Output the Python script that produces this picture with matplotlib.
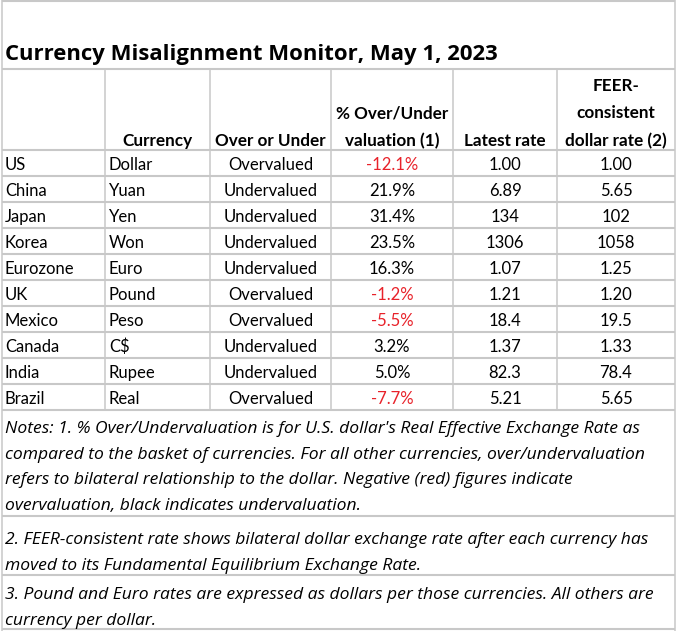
import matplotlib.pyplot as plt

plt.rcParams["font.family"] = ["Lato", "DejaVu Sans"]

# === Table content ===
TITLE = "Currency Misalignment Monitor, May 1, 2023"

countries = ["US", "China", "Japan", "Korea", "Eurozone", "UK", "Mexico", "Canada", "India", "Brazil"]
currencies = ["Dollar", "Yuan", "Yen", "Won", "Euro", "Pound", "Peso", "C$", "Rupee", "Real"]
over_under = ["Overvalued", "Undervalued", "Undervalued", "Undervalued", "Undervalued",
              "Overvalued", "Overvalued", "Undervalued", "Undervalued", "Overvalued"]
misalignment_pct = [-12.1, 21.9, 31.4, 23.5, 16.3, -1.2, -5.5, 3.2, 5.0, -7.7]
latest_rate = ["1.00", "6.89", "134", "1306", "1.07", "1.21", "18.4", "1.37", "82.3", "5.21"]
feer_rate = ["1.00", "5.65", "102", "1058", "1.25", "1.20", "19.5", "1.33", "78.4", "5.65"]

headers = [
    [],
    ["Currency"],
    ["Over or Under"],
    ["% Over/Under", "valuation (1)"],
    ["Latest rate"],
    ["FEER-", "consistent", "dollar rate (2)"],
]

notes = [
    ["Notes: 1. % Over/Undervaluation is for U.S. dollar's Real Effective Exchange Rate as",
     "compared to the basket of currencies. For all other currencies, over/undervaluation",
     "refers to bilateral relationship to the dollar. Negative (red) figures indicate",
     "overvaluation, black indicates undervaluation."],
    ["2. FEER-consistent rate shows bilateral dollar exchange rate after each currency has",
     "moved to its Fundamental Equilibrium Exchange Rate."],
    ["3. Pound and Euro rates are expressed as dollars per those currencies. All others are",
     "currency per dollar."],
]

# === Layout (pixels) ===
W, H = 678, 631
col_x = [2, 105, 210, 331, 453, 557, 675]
header_top, header_bottom = 69, 150
row_h = 26
note_blocks = [(410, 516), (516, 575), (575, 629)]
note_gap = [23, 28, 24]
line_h = 25.7
grid_color = "#c8c8c8"
red = "#e8222a"

fig = plt.figure(figsize=(W / 100, H / 100), dpi=100)
ax = fig.add_axes([0, 0, 1, 1])
ax.set_xlim(0, W)
ax.set_ylim(H, 0)
ax.axis("off")

# ---------- grid ----------
table_bottom = header_bottom + row_h * len(countries)
ax.hlines([1, header_top, header_bottom], 2, 675, color=grid_color, lw=1.5)
ax.hlines([header_bottom + row_h * (i + 1) for i in range(len(countries))], 2, 675,
          color=grid_color, lw=1.5)
ax.hlines([b for _, b in note_blocks], 2, 675, color=grid_color, lw=1.5)
ax.vlines(col_x[1:-1], header_top, table_bottom, color=grid_color, lw=1.1)
ax.vlines([col_x[0], col_x[-1]], 0, H, color=grid_color, lw=1.1)

# ---------- title ----------
ax.text(5, 60, TITLE, fontsize=15.9, fontweight="bold", va="baseline", ha="left",
        family=["Open Sans", "DejaVu Sans"])

# ---------- header ----------
for c, lines in enumerate(headers):
    cx = (col_x[c] + col_x[c + 1]) / 2
    for k, line in enumerate(reversed(lines)):
        ax.text(cx, 146 - k * 27.5, line, fontsize=12.3, fontweight="bold",
                ha="center", va="baseline")

# ---------- rows ----------
for i in range(len(countries)):
    y = header_bottom + row_h * i + 20
    ax.text(5, y, countries[i], fontsize=12, va="baseline", ha="left")
    ax.text(col_x[1] + 4, y, currencies[i], fontsize=12, va="baseline", ha="left")
    ax.text((col_x[2] + col_x[3]) / 2, y, over_under[i], fontsize=12,
            va="baseline", ha="center")
    pct = misalignment_pct[i]
    ax.text((col_x[3] + col_x[4]) / 2, y, f"{pct:.1f}%", fontsize=12,
            va="baseline", ha="center", color=red if pct < 0 else "black")
    ax.text((col_x[4] + col_x[5]) / 2, y, latest_rate[i], fontsize=12,
            va="baseline", ha="center")
    ax.text((col_x[5] + col_x[6]) / 2, y, feer_rate[i], fontsize=12,
            va="baseline", ha="center")

# ---------- notes ----------
for (top, _), gap, block in zip(note_blocks, note_gap, notes):
    for k, line in enumerate(block):
        ax.text(5, top + gap + k * line_h, line, fontsize=12.6, fontstyle="italic",
                va="baseline", ha="left", family=["Open Sans", "DejaVu Sans"])

fig.savefig("out.png", dpi=100)
